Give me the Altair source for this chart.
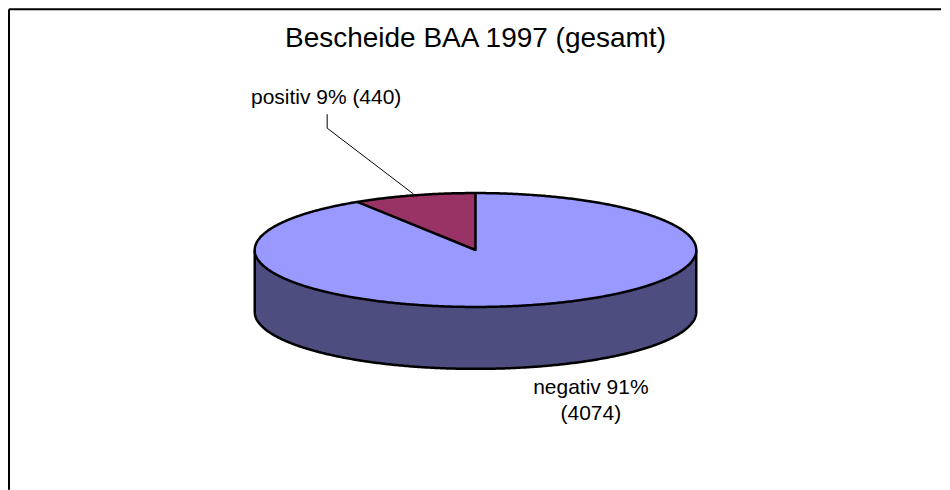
import numpy as np
import pandas as pd
import altair as alt

# Data
categories = ["negativ", "positiv"]
shares = [91, 9]
counts = [4074, 440]
title_text = "Bescheide BAA 1997 (gesamt)"
label_lines = ["positiv 9% (440)", "negativ 91%", "(4074)"]

# Pie geometry (pixel units of the reference picture)
cx, cy, rx, ry, depth = 476, 250, 221, 57, 62
slice_angle = np.radians(360 * shares[1] / sum(shares))

xs = alt.Scale(domain=[8, 942], range=[0, 934], nice=False, zero=False)
ys = alt.Scale(domain=[8, 490], range=[0, 482], nice=False, zero=False)


def X(f="x"):
    return alt.X(f"{f}:Q", scale=xs, axis=None)


def Y(f="y"):
    return alt.Y(f"{f}:Q", scale=ys, axis=None)


t = np.radians(np.linspace(-90, 90, 361))
half = pd.DataFrame({
    "x": cx + rx * np.sin(t),
    "up": cy - ry * np.cos(t),
    "low": cy + ry * np.cos(t),
})
half["bot"] = half["low"] + depth

side = alt.Chart(half).mark_area(color="#4D4D80", opacity=1).encode(
    x=X(), y=Y("low"), y2=alt.Y2("bot"))
top = alt.Chart(half).mark_area(color="#9999FF", opacity=1).encode(
    x=X(), y=Y("up"), y2=alt.Y2("low"))

# Slice fill: rim above, straight edge to the centre below
ts = np.linspace(-slice_angle, 0, 121)
slice_df = pd.DataFrame({"x": cx + rx * np.sin(ts), "y": cy - ry * np.cos(ts)})
rim_x = cx - rx * np.sin(slice_angle)
rim_y = cy - ry * np.cos(slice_angle)
slice_df["y2"] = rim_y + (cy - rim_y) * (slice_df["x"] - rim_x) / (cx - rim_x)
slice_fill = alt.Chart(slice_df).mark_area(color="#993366", opacity=1).encode(
    x=X(), y=Y("y"), y2=alt.Y2("y2"))

# Outlines
tf = np.radians(np.linspace(0, 360, 721))
rim = pd.DataFrame({"x": cx + rx * np.sin(tf), "y": cy - ry * np.cos(tf), "s": "rim"})
rim["i"] = np.arange(len(rim))
tb = np.radians(np.linspace(-90, 90, 361))
bx = np.concatenate([[cx - rx], cx + rx * np.sin(tb), [cx + rx]])
by = np.concatenate([[cy], cy + depth + ry * np.cos(tb), [cy]])
bottom = pd.DataFrame({"x": bx, "y": by, "s": "bottom"})
bottom["i"] = np.arange(len(bottom))
edge = pd.DataFrame({"x": [rim_x, cx, cx], "y": [rim_y, cy, cy - ry], "s": "edge", "i": [0, 1, 2]})
outline = alt.Chart(pd.concat([rim, bottom, edge])).mark_line(
    color="black", strokeWidth=2.5, strokeJoin="round").encode(
    x=X(), y=Y(), detail="s:N", order="i:Q")

# Leader line of the positive label
leader = alt.Chart(pd.DataFrame({"x": [327.5, 327.5, 414], "y": [114, 128, 194], "i": [0, 1, 2]})).mark_line(
    color="black", strokeWidth=1).encode(x=X(), y=Y(), order="i:Q")

# Frame (top and left only)
frame_top = alt.Chart(pd.DataFrame({"x": [9], "x2": [942], "y": [9]})).mark_rule(
    color="black", strokeWidth=2).encode(x=X(), x2="x2:Q", y=Y())
frame_left = alt.Chart(pd.DataFrame({"x": [9], "y": [9], "y2": [490]})).mark_rule(
    color="black", strokeWidth=2).encode(x=X(), y=Y(), y2="y2:Q")

texts = pd.DataFrame({
    "t": [title_text] + label_lines,
    "x": [476, 326.5, 591.5, 591.5],
    "y": [47, 104, 394, 420],
    "s": [28, 21, 21, 21],
})
text = alt.Chart(texts).mark_text(font="Liberation Sans", color="black", align="center", baseline="alphabetic").encode(
    x=X(), y=Y(), text="t:N",
    size=alt.Size("s:Q", scale=None, legend=None))

chart = alt.layer(frame_top, frame_left, side, top, slice_fill, outline, leader, text).properties(
    width=934, height=482, padding=0, background="white"
).configure_view(stroke=None)

chart.save("out.html", embed_options={"renderer": "svg", "actions": False})
